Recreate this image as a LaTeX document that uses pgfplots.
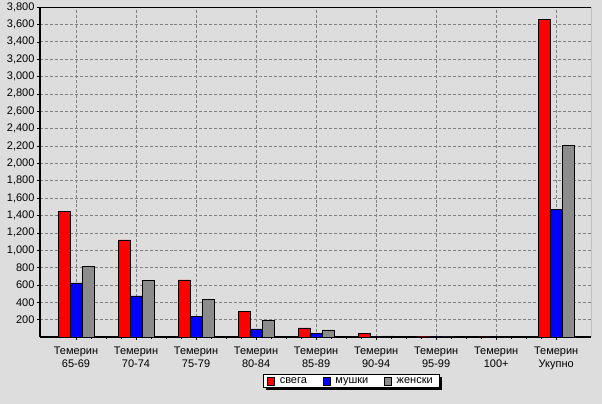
\documentclass[border=0pt]{standalone}
\usepackage{pgfplots}
\pgfplotsset{compat=1.18}
\usepackage{fontspec}
\setmainfont{Liberation Sans}
\definecolor{bg}{HTML}{DDDDDD}
\definecolor{cred}{HTML}{FF0000}
\definecolor{cblue}{HTML}{0000FF}
\definecolor{cgray}{HTML}{8C8C8C}
\begin{document}
\begin{tikzpicture}
\useasboundingbox (-40bp,-67bp) rectangle (562bp,337bp);
\fill[bg] (-40bp,-67bp) rectangle (562bp,337bp);
\begin{axis}[
  at={(0,0)}, anchor=south west,
  scale only axis, width=551bp, height=330bp,
  xmin=-0.6, xmax=8.58, ymin=0, ymax=3800,
  axis background/.style={fill=bg},
  axis x line*=bottom, axis y line*=left,
  axis line style={line width=1.5pt, black, -},
  ytick={200,400,...,3800},
  xtick={0,...,8},
  xticklabels={{Темерин\\65-69},{Темерин\\70-74},{Темерин\\75-79},{Темерин\\80-84},{Темерин\\85-89},{Темерин\\90-94},{Темерин\\95-99},{Темерин\\100+},{Темерин\\Укупно}},
  xticklabel style={align=center, font=\fontsize{11bp}{13.5bp}\selectfont, yshift=-3bp},
  yticklabel style={font=\fontsize{11bp}{12bp}\selectfont, xshift=1bp},
  /pgf/number format/assume math mode=true,
  /pgf/number format/1000 sep={,},
  scaled y ticks=false,
  tick align=outside,
  major tick length=3bp,
  minor x tick num=3,
  minor tick length=2bp,
  tick style={black, line width=0.4pt},
  grid=major,
  major grid style={densely dashed, gray, line width=0.5pt},
  ybar, bar width=12bp, bar shift=0pt,
  legend style={name=leg, at={(0.5645,-0.133)}, anchor=center, legend columns=3,
    draw=black, fill=white, font=\fontsize{11bp}{12bp}\selectfont,
    inner xsep=4bp, inner ysep=0.5pt, row sep=0pt,
    /tikz/every even column/.append style={column sep=14bp},
    /tikz/every odd column/.append style={column sep=3bp}},
  legend image code/.code={\fill[#1, draw=black] (0bp,-4bp) rectangle (7bp,4bp);},
]
\addplot[fill=cred, draw=black, bar shift=-12bp] coordinates {(0,1443) (1,1117) (2,657) (3,292) (4,105) (5,42) (6,3) (7,1) (8,3660)};
\addplot[fill=cblue, draw=black, bar shift=0bp] coordinates {(0,622) (1,473) (2,235) (3,93) (4,39) (5,2) (6,1) (7,0) (8,1466)};
\addplot[fill=cgray, draw=black, bar shift=12bp] coordinates {(0,815) (1,655) (2,435) (3,195) (4,83) (5,12) (6,2) (7,0) (8,2210)};
\legend{свега, мушки, женски}
\draw[black, line width=0.6pt] (rel axis cs:0,1) -- (rel axis cs:1,1) -- (rel axis cs:1,0);
\end{axis}
\fill[black] ([xshift=3bp]leg.south west) rectangle ([xshift=3bp,yshift=-3bp]leg.south east);
\fill[black] ([yshift=-3bp]leg.north east) rectangle ([xshift=3bp]leg.south east);
\end{tikzpicture}
\end{document}
